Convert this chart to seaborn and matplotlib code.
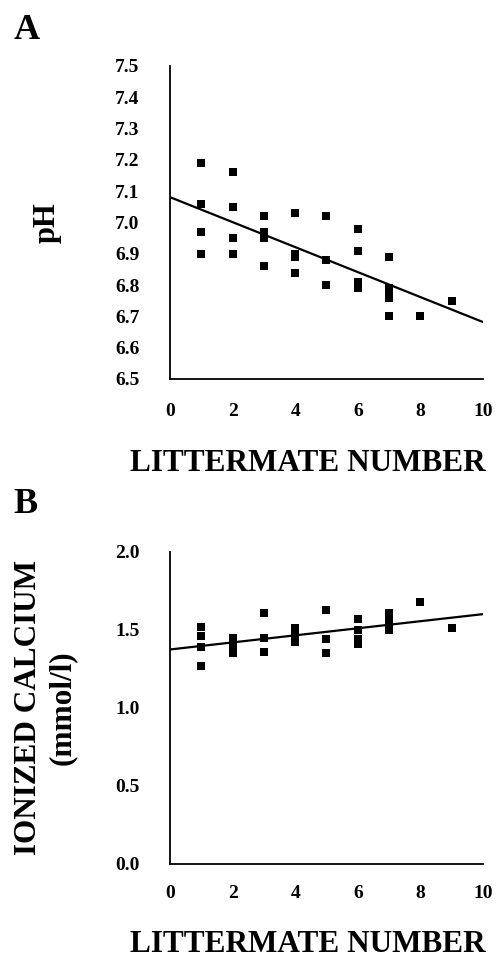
import pandas as pd
import seaborn as sns
import matplotlib.pyplot as plt

# ===== font =====
sns.set_style("white")
plt.rcParams['font.family'] = ['Liberation Serif', 'DejaVu Serif']
plt.rcParams['font.weight'] = 'bold'
plt.rcParams['text.color'] = 'black'
plt.rcParams['axes.labelcolor'] = 'black'
plt.rcParams['xtick.color'] = 'black'
plt.rcParams['ytick.color'] = 'black'

# ===== data =====
ph_litter = [1, 1, 1, 1, 2, 2, 2, 2, 3, 3, 3, 3, 4, 4, 4, 4, 5, 5, 5,
             6, 6, 6, 6, 7, 7, 7, 7, 7, 8, 9]
ph_values = [7.19, 7.06, 6.97, 6.90, 7.16, 7.05, 6.95, 6.90,
             7.02, 6.97, 6.95, 6.86, 7.03, 6.90, 6.89, 6.84,
             7.02, 6.88, 6.80, 6.98, 6.91, 6.81, 6.79,
             6.89, 6.79, 6.78, 6.76, 6.70, 6.70, 6.75]

ca_litter = [1, 1, 1, 1, 2, 2, 2, 2, 3, 3, 3, 4, 4, 4, 4, 5, 5, 5,
             6, 6, 6, 6, 7, 7, 7, 7, 8, 9]
ca_values = [1.52, 1.46, 1.39, 1.27, 1.45, 1.41, 1.38, 1.35,
             1.61, 1.45, 1.36, 1.51, 1.48, 1.45, 1.42,
             1.63, 1.44, 1.35, 1.57, 1.50, 1.44, 1.41,
             1.61, 1.56, 1.53, 1.50, 1.68, 1.51]

x_ticks = [0, 2, 4, 6, 8, 10]
ph_ticks = [6.5, 6.6, 6.7, 6.8, 6.9, 7.0, 7.1, 7.2, 7.3, 7.4, 7.5]
ca_ticks = [0.0, 0.5, 1.0, 1.5, 2.0]

df_ph = pd.DataFrame({"litter": ph_litter, "ph": ph_values})
df_ca = pd.DataFrame({"litter": ca_litter, "ca": ca_values})

# ===== canvas =====
fig = plt.figure(figsize=(4.96, 9.66), dpi=100)
ax_a = fig.add_axes([0.3427, 0.6077, 0.631, 0.324])
ax_b = fig.add_axes([0.3427, 0.1056, 0.631, 0.323])

pts = {"s": 28, "color": "black", "marker": "s", "linewidths": 0, "alpha": 1}
line = {"color": "black", "lw": 1.6}

# ----- panel A -----
ax_a.set_xlim(0, 10)
ax_a.set_ylim(6.5, 7.5)
sns.regplot(data=df_ph, x="litter", y="ph", ci=None, truncate=False,
            marker="s", scatter_kws=pts, line_kws=line, ax=ax_a)

# ----- panel B -----
ax_b.set_xlim(0, 10)
ax_b.set_ylim(0.0, 2.0)
sns.regplot(data=df_ca, x="litter", y="ca", ci=None, truncate=False,
            marker="s", scatter_kws=pts, line_kws=line, ax=ax_b)

for ax, yt in [(ax_a, ph_ticks), (ax_b, ca_ticks)]:
    sns.despine(ax=ax)
    for side in ['left', 'bottom']:
        ax.spines[side].set_color('black')
        ax.spines[side].set_linewidth(1.3)
    ax.set_xticks(x_ticks)
    ax.set_xticklabels([str(t) for t in x_ticks])
    ax.set_yticks(yt)
    ax.set_yticklabels(["{:.1f}".format(t) for t in yt])
    ax.tick_params(direction='in', length=6, width=1.2, colors='black',
                   labelsize=14)
    ax.tick_params(axis='y', pad=22)
    for lab in ax.get_xticklabels() + ax.get_yticklabels():
        lab.set_fontweight('bold')
    ax.set_xlabel("LITTERMATE NUMBER", fontsize=22.5, fontweight='bold')

ax_a.tick_params(axis='x', pad=17)
ax_b.tick_params(axis='x', pad=15)
ax_a.xaxis.set_label_coords(0.44, -0.225)
ax_b.xaxis.set_label_coords(0.44, -0.21)

ax_a.set_ylabel("pH", fontsize=22, fontweight='bold')
ax_a.yaxis.set_label_coords(-0.345, 0.5)

ax_b.set_ylabel("IONIZED CALCIUM\n(mmol/l)", fontsize=22.5, fontweight='bold',
                linespacing=1.25)
ax_b.yaxis.set_label_coords(-0.297, 0.5)

# ===== panel letters =====
fig.text(0.028, 0.968, "A", fontsize=26, fontweight='bold', va='center')
fig.text(0.028, 0.478, "B", fontsize=26, fontweight='bold', va='center')

plt.savefig("out.png", dpi=100)
